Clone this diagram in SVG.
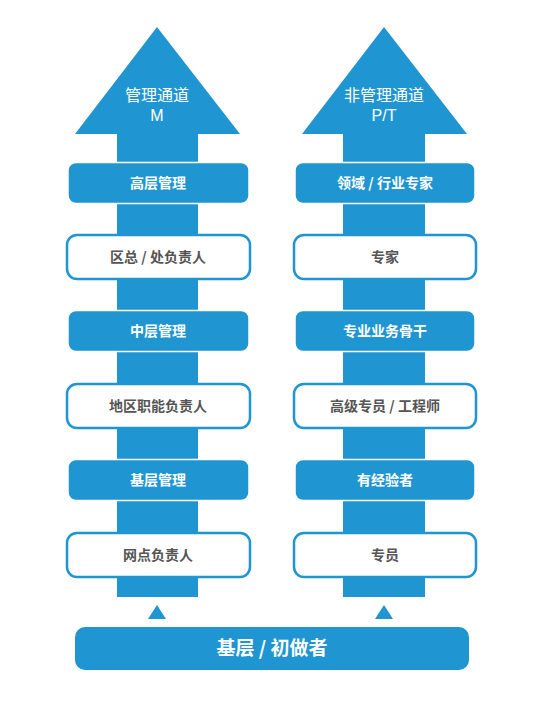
<svg xmlns="http://www.w3.org/2000/svg" width="552" height="723" viewBox="0 0 552 723">
<style>
.fill{fill:#1F95D2;stroke:#fff;stroke-width:1.5}
.wbox{fill:#fff;stroke:#1F95D2;stroke-width:2.5}
.blue{fill:#1F95D2}
.tw{font-family:"Noto Sans CJK SC","Noto Sans",sans-serif;font-weight:bold;font-size:14px;fill:#fff;text-anchor:middle}
.tg{font-family:"Noto Sans CJK SC","Noto Sans",sans-serif;font-weight:bold;font-size:14px;fill:#555;text-anchor:middle}
.th{font-family:"Noto Sans CJK SC","Noto Sans",sans-serif;font-size:16px;fill:#fff;text-anchor:middle}
.tl{font-family:"Liberation Sans",Arial,sans-serif;font-size:16px;fill:#fff;text-anchor:middle}
</style>
<rect width="552" height="723" fill="#fff"/>
<g id="connectors">
<polygon id="arrowM" class="blue" points="157,27 240,134 198,134 198,597 117,597 117,134 75,134"/>
<polygon id="arrowPT" class="blue" points="384,27 467,134 425,134 425,597 343,597 343,134 302,134"/>
<polygon class="blue" points="157,605 166,619 148,619"/>
<polygon class="blue" points="384,605 393,619 375,619"/>
</g>
<g id="label-M"><text class="th" x="157" y="101">管理通道</text><text class="tl" x="157" y="121">M</text></g>
<g id="label-PT"><text class="th" x="384" y="101">非管理通道</text><text class="tl" x="384" y="121">P/T</text></g>
<g id="n1"><rect class="fill" x="68" y="162.5" width="181" height="41" rx="8"/><text class="tw" x="158" y="188">高层管理</text></g>
<g id="n2"><rect class="wbox" x="67" y="235" width="183" height="44" rx="10"/><text class="tg" x="158" y="262">区总 / 处负责人</text></g>
<g id="n3"><rect class="fill" x="68" y="310.5" width="181" height="41" rx="8"/><text class="tw" x="158" y="336">中层管理</text></g>
<g id="n4"><rect class="wbox" x="67" y="384" width="183" height="44" rx="10"/><text class="tg" x="158" y="411">地区职能负责人</text></g>
<g id="n5"><rect class="fill" x="68" y="459.5" width="181" height="41" rx="8"/><text class="tw" x="158" y="485">基层管理</text></g>
<g id="n6"><rect class="wbox" x="67" y="533" width="183" height="44" rx="10"/><text class="tg" x="158" y="560">网点负责人</text></g>
<g id="p1"><rect class="fill" x="295" y="162.5" width="180" height="41" rx="8"/><text class="tw" x="385" y="188">领域 / 行业专家</text></g>
<g id="p2"><rect class="wbox" x="294" y="235" width="182" height="44" rx="10"/><text class="tg" x="385" y="262">专家</text></g>
<g id="p3"><rect class="fill" x="295" y="310.5" width="180" height="41" rx="8"/><text class="tw" x="385" y="336">专业业务骨干</text></g>
<g id="p4"><rect class="wbox" x="294" y="384" width="182" height="44" rx="10"/><text class="tg" x="385" y="411">高级专员 / 工程师</text></g>
<g id="p5"><rect class="fill" x="295" y="459.5" width="180" height="41" rx="8"/><text class="tw" x="385" y="485">有经验者</text></g>
<g id="p6"><rect class="wbox" x="294" y="533" width="182" height="44" rx="10"/><text class="tg" x="385" y="560">专员</text></g>
<g id="base"><rect class="blue" x="75" y="627" width="394" height="43" rx="10"/><text class="tw" style="font-size:19px" x="272" y="655">基层 / 初做者</text></g>
</svg>
